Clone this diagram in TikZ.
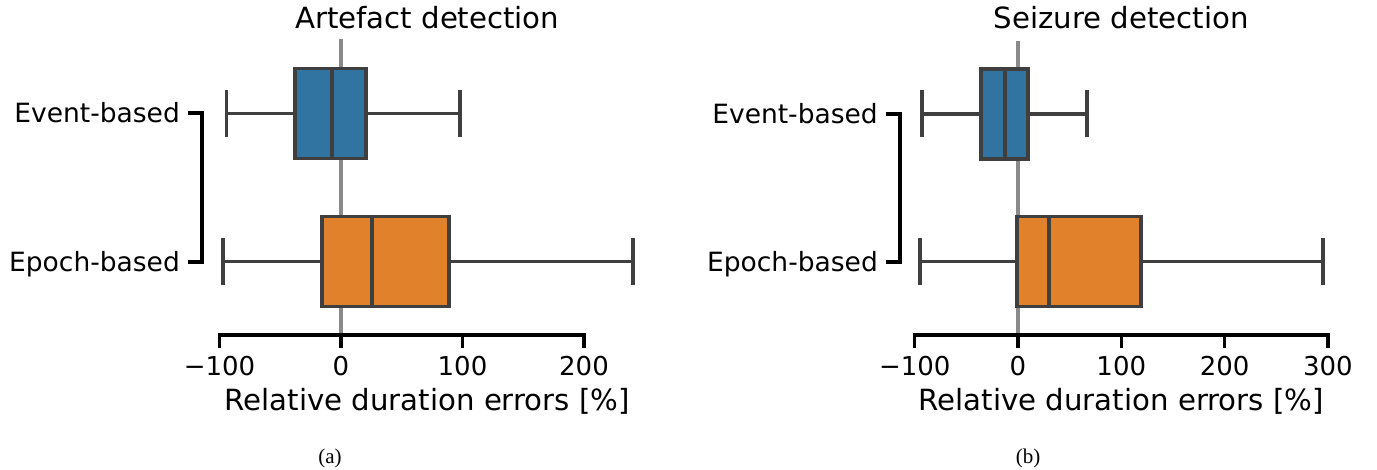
\documentclass[tikz,border=0pt]{standalone}
\usepackage{fontspec}
\setmainfont{DejaVu Sans}
\newfontfamily\capfont{Liberation Serif}
\usepackage{tikz}
\usetikzlibrary{positioning}
\definecolor{evtblue}{HTML}{3274A1}
\definecolor{epoorange}{HTML}{E1812C}
\definecolor{edgegray}{HTML}{3F3F3F}
\definecolor{zerogray}{HTML}{8A8A8A}
\tikzset {
	box/.style={draw=edgegray, line width=3.8pt},
	whisker/.style={draw=edgegray, line width=3.4pt},
	zeroline/.style={draw=zerogray, line width=3.2pt},
	spine/.style={draw=black, line width=3.4pt},
	ticklabel/.style={font=\fontsize{26}{30}\selectfont, anchor=base, inner sep=0pt},
	catlabel/.style={font=\fontsize{26.5}{30}\selectfont, anchor=base east, inner sep=0pt},
	axlabel/.style={font=\fontsize{29.2}{34}\selectfont, anchor=base, inner sep=0pt},
	subcap/.style={font=\capfont\fontsize{21}{24}\selectfont, anchor=base, inner sep=0pt}
}
% #1 row centre, #2 fill, #3 low whisker, #4 q1, #5 median, #6 q3, #7 high whisker
\newcommand{\boxrow}[7]{
	\draw[whisker] (#3,#1) -- (#4,#1) (#6,#1) -- (#7,#1);
	\draw[whisker] (#3,#1-23.5) -- (#3,#1+23.5) (#7,#1-23.5) -- (#7,#1+23.5);
	\filldraw[box, fill=#2] (#4,#1-45) rectangle (#6,#1+45);
	\draw[box] (#5,#1-45) -- (#5,#1+45);
}

\begin{document}
\begin{tikzpicture}[x=1pt, y=-1pt]
	\useasboundingbox (0,0) rectangle (1377,470);

	% (a) artefacts
	\begin{scope}[xshift=341pt, x=1.215pt]
		\draw[zeroline] (0,39) -- (0,335);
		\boxrow{113.5}{evtblue}{-94}{-37.9}{-7.4}{20.6}{97.9}
		\boxrow{261.5}{epoorange}{-97.1}{-15.6}{25.5}{88.9}{240.3}
		\draw[spine] (-100,348) -- (-100,335) -- (200,335) -- (200,348);
		\foreach \v/\t [count=\i] in {-100/−100, 0/0, 100/100, 200/200} {
			\draw[spine] (\v,335) -- (\v,348);
			\node[ticklabel] (tickA\i) at (\v,376) {\t};
		}
		\coordinate (evtA) at (-125.9,113);
		\coordinate (epoA) at (-125.9,262);
		\draw[spine] (evtA) -| (-114.4,113) |- (epoA);
		\node[catlabel] (evtlabA) at ([xshift=-8pt, yshift=-10pt]evtA) {Event-based};
		\node[catlabel] (epolabA) at ([xshift=-8pt, yshift=-10pt]epoA) {Epoch-based};
		\node[axlabel] (titleA) at (71,29) {Artefact detection};
		\node[axlabel] (xlabA) at (71,410) {Relative duration errors [\%]};
		\node[subcap] (capA) at (-9,464) {(a)};
	\end{scope}

	% (b) seizures
	\begin{scope}[xshift=1018pt, x=1.033pt]
		\draw[zeroline] (0,41) -- (0,335);
		\boxrow{114}{evtblue}{-92.9}{-35.8}{-12.6}{9.7}{66.8}
		\boxrow{261.5}{epoorange}{-94.9}{-1}{30}{119.1}{295.3}
		\draw[spine] (-100,348) -- (-100,335) -- (300,335) -- (300,348);
		\foreach \v/\t [count=\i] in {-100/−100, 0/0, 100/100, 200/200, 300/300} {
			\draw[spine] (\v,335) -- (\v,348);
			\node[ticklabel] (tickB\i) at (\v,376) {\t};
		}
		\coordinate (evtB) at (-127.8,114);
		\coordinate (epoB) at (-127.8,262);
		\draw[spine] (evtB) -| (-114.2,114) |- (epoB);
		\node[catlabel] (evtlabB) at ([xshift=-8pt, yshift=-10pt]evtB) {Event-based};
		\node[catlabel] (epolabB) at ([xshift=-8pt, yshift=-10pt]epoB) {Epoch-based};
		\node[axlabel] (titleB) at (100,29) {Seizure detection};
		\node[axlabel] (xlabB) at (100,410) {Relative duration errors [\%]};
		\node[subcap] (capB) at (9.7,464) {(b)};
	\end{scope}
\end{tikzpicture}
\end{document}
